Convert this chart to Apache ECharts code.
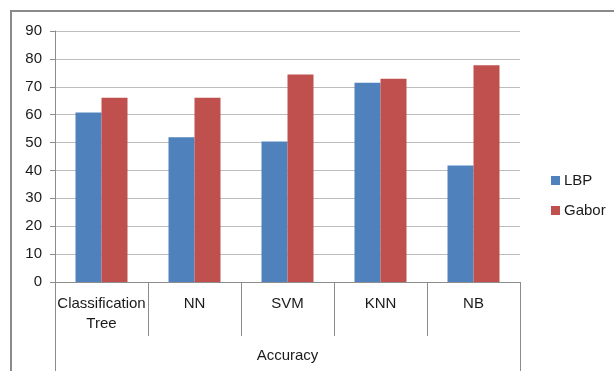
<!DOCTYPE html>
<html>
<head>
<meta charset="utf-8">
<script src="https://cdn.jsdelivr.net/npm/echarts@6/dist/echarts.min.js"></script>
<style>
  html, body { margin: 0; padding: 0; background: #fff; }
  #chart { width: 614px; height: 371px; }
</style>
</head>
<body>
<div id="chart"></div>
<script>
// Classifier accuracy for two feature sets
const categories = ['Classification\nTree', 'NN', 'SVM', 'KNN', 'NB'];
const groupLabel = ['Accuracy'];
const lbpValues = [60.8, 51.9, 50.4, 71.4, 41.8];
const gaborValues = [66.1, 66.1, 74.4, 72.9, 77.7];
const seriesNames = ['LBP', 'Gabor'];

const FONT = '"Liberation Sans", Arial, sans-serif';
const TEXT = '#1a1a1a';
const AXIS = '#8c8c8c';

const chart = echarts.init(document.getElementById('chart'), null, { renderer: 'canvas' });

chart.setOption({
  animation: false,
  backgroundColor: '#fff',
  textStyle: { fontFamily: FONT },
  graphic: [{
    type: 'rect',
    shape: { x: 11, y: 11, width: 640, height: 400 },
    style: { fill: 'none', stroke: '#8a8a8a', lineWidth: 2 },
    silent: true
  }],
  legend: {
    orient: 'vertical',
    left: 546,
    top: 167,
    itemWidth: 9,
    itemHeight: 9,
    itemGap: 13,
    icon: 'rect',
    textStyle: { fontFamily: FONT, fontSize: 15, color: TEXT, lineHeight: 17, padding: [0, 0, 0, -1] },
    data: seriesNames
  },
  grid: { left: 55, right: 94, top: 31, bottom: 89, containLabel: false },
  xAxis: [{
    type: 'category',
    data: categories,
    position: 'bottom',
    axisLine: { show: true, lineStyle: { color: AXIS, width: 1 } },
    axisTick: { show: true, interval: 0, length: 54, alignWithLabel: false, lineStyle: { color: AXIS } },
    axisLabel: { interval: 0, margin: 12, fontFamily: FONT, fontSize: 15, color: TEXT, lineHeight: 20 },
    splitLine: { show: false }
  }, {
    type: 'category',
    data: groupLabel,
    position: 'bottom',
    axisLine: { show: false },
    axisTick: { show: true, interval: 0, length: 92, lineStyle: { color: AXIS } },
    axisLabel: { interval: 0, margin: 66, fontFamily: FONT, fontSize: 15, color: TEXT },
    splitLine: { show: false }
  }],
  yAxis: {
    type: 'value',
    min: 0,
    max: 90,
    interval: 10,
    axisLine: { show: true, lineStyle: { color: AXIS } },
    axisTick: { show: true, length: 5, lineStyle: { color: AXIS } },
    axisLabel: { margin: 13, fontFamily: FONT, fontSize: 15, color: TEXT },
    splitLine: { show: true, lineStyle: { color: '#bdbdbd', width: 1 } }
  },
  series: [{
    name: seriesNames[0],
    type: 'bar',
    xAxisIndex: 0,
    data: lbpValues,
    barWidth: 26,
    barGap: '0%',
    itemStyle: { color: '#4f81bd' }
  }, {
    name: seriesNames[1],
    type: 'bar',
    xAxisIndex: 0,
    data: gaborValues,
    barWidth: 26,
    barGap: '0%',
    itemStyle: { color: '#c0504d' }
  }]
});
</script>
</body>
</html>
